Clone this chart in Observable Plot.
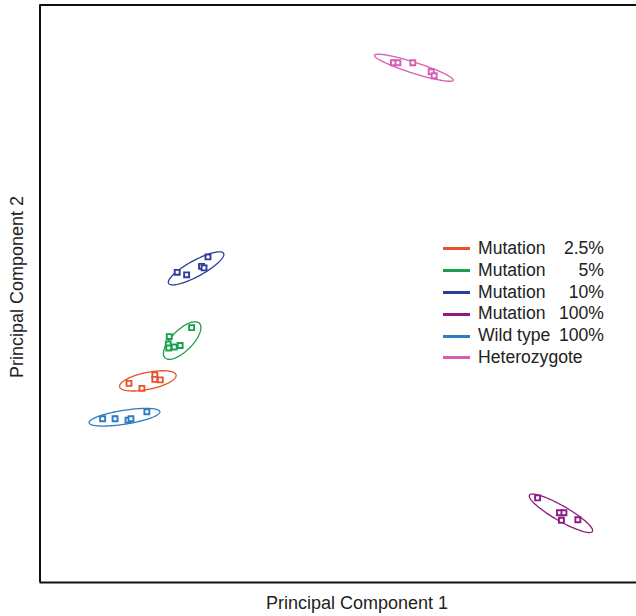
<!DOCTYPE html>
<html>
<head>
<meta charset="utf-8">
<script src="https://cdn.jsdelivr.net/npm/d3@7"></script>
<script src="https://cdn.jsdelivr.net/npm/@observablehq/plot@0.6"></script>
<style>
  html, body { margin: 0; padding: 0; background: #fff; }
  #wrap { position: relative; width: 636px; height: 616px; font-family: "Liberation Sans", Arial, sans-serif; color: #222; }
  #wrap svg { position: absolute; left: 0; top: 0; }
  .xlab { position: absolute; left: 357px; top: 593px; transform: translateX(-50%); font-size: 18px; white-space: nowrap; }
  .ylab { position: absolute; left: 17px; top: 287px; transform: translate(-50%, -50%) rotate(-90deg); font-size: 18px; white-space: nowrap; }
  .legend { position: absolute; left: 443px; top: 238px; width: 161px; display: grid; grid-template-columns: 27px auto 1fr; column-gap: 8px; font-size: 17.6px; line-height: 21.8px; }
  .legend .sw { align-self: center; height: 3px; }
  .legend .val { text-align: right; }
  .legend .span2 { grid-column: 2 / 4; }
</style>
</head>
<body>
<div id="wrap"></div>
<script>
// Groups and colours
const groups = ["Mutation 2.5%", "Mutation 5%", "Mutation 10%", "Mutation 100%", "Wild type 100%", "Heterozygote"];
const legendNames = ["Mutation", "Mutation", "Mutation", "Mutation", "Wild type", "Heterozygote"];
const legendValues = ["2.5%", "5%", "10%", "100%", "100%", ""];
const colors = ["#e8512b", "#16a04b", "#2b3d98", "#8c1b84", "#2f7cc0", "#d65cb4"];

// Sample scores (PC1, PC2) per group
const pc1_mut2_5 = [-4.21, -3.95, -3.69, -3.69, -3.58];
const pc2_mut2_5 = [-1.80, -1.90, -1.63, -1.72, -1.73];
const pc1_mut5 = [-2.95, -3.40, -3.42, -3.41, -3.30, -3.18];
const pc2_mut5 = [-0.68, -0.86, -1.01, -1.09, -1.07, -1.04];
const pc1_mut10 = [-3.24, -3.05, -2.75, -2.70, -2.62];
const pc2_mut10 = [0.43, 0.38, 0.55, 0.52, 0.74];
const pc1_mut100 = [4.01, 4.45, 4.54, 4.49, 4.82];
const pc2_mut100 = [-4.10, -4.40, -4.40, -4.55, -4.54];
const pc1_wt = [-4.74, -4.49, -4.23, -4.17, -3.85];
const pc2_wt = [-2.51, -2.51, -2.54, -2.51, -2.37];
const pc1_het = [1.11, 1.20, 1.50, 1.87, 1.93];
const pc2_het = [4.64, 4.64, 4.64, 4.46, 4.38];

// Confidence ellipses per group: centre, semi-axes, rotation (degrees)
const ellCx = [-3.83, -3.14, -2.86, 4.48, -4.30, 1.52];
const ellCy = [-1.75, -0.94, 0.51, -4.41, -2.48, 4.54];
const ellA = [0.58, 0.49, 0.63, 0.73, 0.72, 0.83];
const ellB = [0.17, 0.21, 0.16, 0.15, 0.14, 0.11];
const ellAngle = [11.7, 45, 28.6, -29.9, 8.9, -17.6];

const pc1s = [pc1_mut2_5, pc1_mut5, pc1_mut10, pc1_mut100, pc1_wt, pc1_het];
const pc2s = [pc2_mut2_5, pc2_mut5, pc2_mut10, pc2_mut100, pc2_wt, pc2_het];

const points = [];
groups.forEach((g, i) => pc1s[i].forEach((x, j) => points.push({group: g, x, y: pc2s[i][j]})));

const ellPts = [];
groups.forEach((g, i) => {
  const th = ellAngle[i] * Math.PI / 180;
  const n = 120;
  for (let k = 0; k < n; k++) {
    const t = 2 * Math.PI * k / n;
    const u = ellA[i] * Math.cos(t), v = ellB[i] * Math.sin(t);
    ellPts.push({group: g, x: ellCx[i] + u * Math.cos(th) - v * Math.sin(th), y: ellCy[i] + u * Math.sin(th) + v * Math.cos(th)});
  }
});

const xDomain = [-6, 6];
const yDomain = [-5.8, 5.8];

const chart = Plot.plot({
  width: 636,
  height: 616,
  marginLeft: 39.5,
  marginRight: 0,
  marginTop: 4.5,
  marginBottom: 34,
  x: {domain: xDomain, axis: null},
  y: {domain: yDomain, axis: null},
  color: {domain: groups, range: colors},
  style: {background: "white"},
  marks: [
    Plot.line(ellPts, {x: "x", y: "y", z: "group", stroke: "group", strokeWidth: 1.3, curve: "linear-closed"}),
    Plot.dot(points, {x: "x", y: "y", stroke: "group", fill: "white", symbol: "square", r: 2.8, strokeWidth: 1.9}),
    Plot.ruleX([xDomain[0]], {stroke: "#111", strokeWidth: 2}),
    Plot.ruleY(yDomain, {stroke: "#111", strokeWidth: 2})
  ]
});

const wrap = document.getElementById("wrap");
wrap.appendChild(chart);

const xl = document.createElement("div");
xl.className = "xlab"; xl.textContent = "Principal Component 1";
wrap.appendChild(xl);
const yl = document.createElement("div");
yl.className = "ylab"; yl.textContent = "Principal Component 2";
wrap.appendChild(yl);

const lg = document.createElement("div");
lg.className = "legend";
groups.forEach((g, i) => {
  const sw = document.createElement("div");
  sw.className = "sw"; sw.style.background = colors[i];
  lg.appendChild(sw);
  const nm = document.createElement("div");
  nm.textContent = legendNames[i];
  if (!legendValues[i]) { nm.className = "span2"; lg.appendChild(nm); }
  else {
    lg.appendChild(nm);
    const vl = document.createElement("div");
    vl.className = "val"; vl.textContent = legendValues[i];
    lg.appendChild(vl);
  }
});
wrap.appendChild(lg);
</script>
</body>
</html>
